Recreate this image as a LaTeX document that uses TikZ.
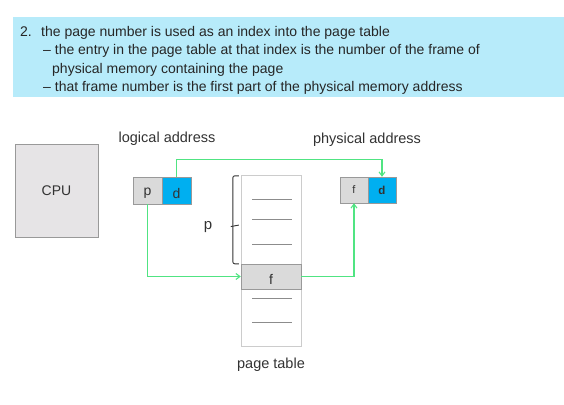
\documentclass[tikz,border=0pt]{standalone}
\usepackage{fontspec}
\setmainfont{Liberation Sans}
\usepackage{xcolor}
\usepackage{tikz}
\usetikzlibrary{arrows.meta, positioning, calc}
\definecolor{bannerblue}{RGB}{183,235,250}
\definecolor{cellblue}{RGB}{0,175,240}
\definecolor{cellgray}{RGB}{218,218,218}
\definecolor{cpugray}{RGB}{230,228,230}
\definecolor{linkgreen}{RGB}{80,228,130}
\definecolor{textgray}{RGB}{50,50,50}
\newcommand{\lowered}[1]{\raisebox{-3pt}[\height][\depth]{#1}}
\tikzset{
    cell/.style={draw=gray!80, inner sep=0pt, minimum width=29pt, minimum height=27pt, font=\fontsize{14}{16}\selectfont, text=textgray},
    small cell/.style={cell, minimum width=28pt, minimum height=26pt, font=\fontsize{11}{13}\selectfont},
    label/.style={font=\fontsize{14.5}{17}\selectfont, text=textgray},
    bannertext/.style={anchor=base west, inner sep=0pt, font=\fontsize{14}{17}\selectfont, text=black!85},
    link/.style={draw=linkgreen, line width=1.1pt, -{Straight Barb[length=4pt, width=6pt]}},
    entry/.style={draw=gray!90, line width=0.9pt}
}

\begin{document}
\begin{tikzpicture}[x=1pt, y=-1pt]
    \useasboundingbox (0,0) rectangle (564,404);

    % Banner
    \fill[bannerblue] (13,17) rectangle (564,97);
    \node[bannertext] (num) at (20,37) {2.};
    \node[bannertext] (line1) at (41,37) {the page number is used as an index into the page table};
    \node[bannertext] (line2) at (43,55) {-- the entry in the page table at that index is the number of the frame of};
    \node[bannertext] (line3) at (52,73) {physical memory containing the page};
    \node[bannertext] (line4) at (43,91) {-- that frame number is the first part of the physical memory address};

    % CPU
    \node[cell, fill=cpugray, minimum width=83pt, minimum height=93pt] (cpu) at (56.5,190.5) {CPU};

    % Logical address
    \node[label] (logical) at (167,139) {logical address};
    \node[cell, fill=cellgray] (lp) at (147.5,190.5) {\lowered{p}};
    \node[cell, fill=cellblue] (ld) at (176.5,190.5) {\lowered{d}};

    % Physical address
    \node[label] (physical) at (367,140) {physical address};
    \node[small cell, fill=cellgray] (pf) at (354,190) {f};
    \node[small cell, fill=cellblue, font=\fontsize{11.5}{13}\selectfont\bfseries] (pd) at (382,190) {d};

    % Page table
    \node[draw=gray!40, fill=white, minimum width=60pt, minimum height=171pt, inner sep=0pt] (ptable) at (271,260.5) {};
    \node[cell, fill=cellgray, minimum width=60pt, minimum height=25pt] (ptf) at (271,276.5) {\lowered{f}};
    \foreach \y in {199,219,244,298,322}
        \draw[entry] (252,\y) -- (292,\y);
    \node[label, below=8pt of ptable] (ptlabel) {page table};

    % Bracket and index
    \coordinate (bracetop) at ($(ptable.north west)+(-2,1)$);
    \coordinate (bracebot) at ($(ptf.north west)+(-2,0)$);
    \coordinate (bracetip) at ($(bracetop)!0.56!(bracebot)+(-8,0)$);
    \draw[textgray, line width=0.9pt, rounded corners=2pt]
        (bracetop) -- ++(-6,0) -- ($(bracebot)+(-6,0)$) -- (bracebot);
    \draw[textgray, line width=0.9pt] ($(bracetip)+(8,0)$) to[out=180, in=0] ($(bracetip)+(0,1.5)$);
    \node[label, font=\fontsize{15}{17}\selectfont] (pidx) at (208,227) {p};

    % Links
    \draw[link] (ld.north) -- ++(0,-17) -| (pd.north);
    \draw[link] (lp.south) |- (ptf.west);
    \draw[link] (ptf.east) -| (pf.south);
\end{tikzpicture}
\end{document}
